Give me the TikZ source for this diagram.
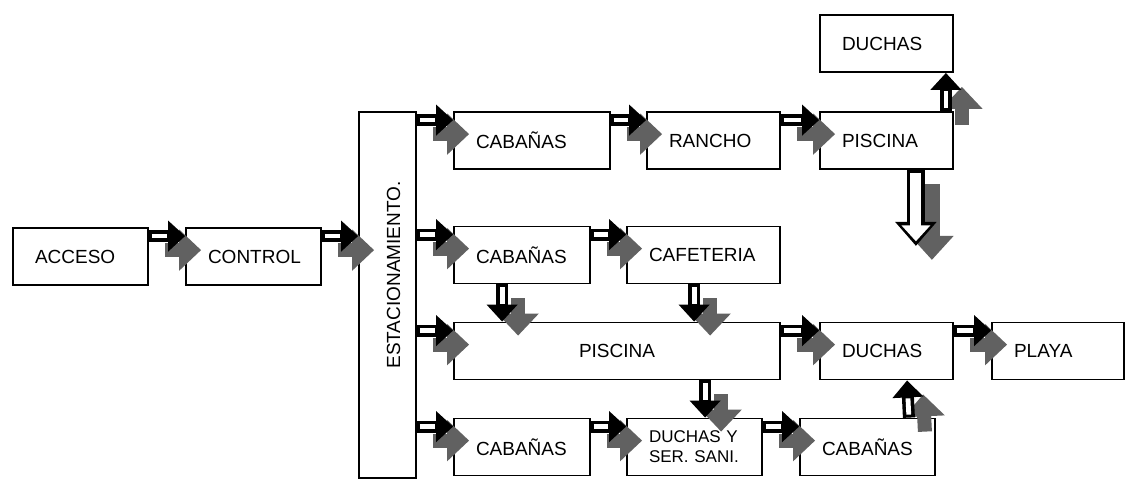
\documentclass[tikz,border=0pt]{standalone}
\usepackage{fontspec}
\setmainfont{Liberation Sans}
\usepackage{graphicx}
\usepackage{tikz}
\usetikzlibrary{calc,arrows.meta,positioning}
\hyphenpenalty=10000

\begin{document}
\begin{tikzpicture}[x=0.5pt,y=0.5pt]

  % Styles
  \tikzstyle{block}=[draw,line width=0.9pt,fill=white,align=left,minimum height=28.5pt,inner xsep=11pt,inner ysep=2pt,font=\fontsize{9.5}{11}\selectfont]
  \tikzstyle{ghost}=[line width=7pt,draw=black!62,-{Triangle[length=11pt,width=20pt]},transform canvas={shift={(8pt,-7pt)}}]
  \tikzstyle{to}=[line width=6pt,-{Triangle[length=8.5pt,width=15pt]}]
  \tikzstyle{slot}=[line width=2.4pt,draw=white,shorten <=1.5pt,shorten >=9pt]

  % \block{<id>}{<text width>}{<label>}
  \newcommand{\block}[3]{node[block,text width=#2] (#1) {#3}}
  % \flow{<from>}{<to>}
  \newcommand{\flow}[2]{\draw[ghost] #1 -- #2; \draw[to] #1 -- #2; \draw[slot] #1 -- #2;}

  % ===========================================================================

  \useasboundingbox (0,0) rectangle (1133,-491);

  % Draw blocks
  \path (80.5,-256.5)     \block{acc}{45.5pt}{ACCESO};
  \path (acc) +(173,0)    \block{ctl}{45.5pt}{CONTROL};
  \path (387.5,-295) node[block,minimum width=28.5pt,minimum height=183pt,inner xsep=0pt] (est)
    {\hspace*{6pt}\rotatebox{90}{\hspace*{20pt}ESTACIONAMIENTO.}};

  \path (532,-140.5)      \block{cab1}{56pt}{CABAÑAS};
  \path (cab1) +(181.5,0) \block{ran}{44.5pt}{RANCHO};
  \path (ran) +(173,0)    \block{pis1}{44.5pt}{PISCINA};
  \path (pis1) +(0,97)    \block{duc1}{44.5pt}{DUCHAS};

  \path (522,-255)        \block{cab2}{46pt}{CABAÑAS};
  \path (cab2) +(181.5,0) \block{caf}{54.5pt}{CAFETERIA};

  \path (617,-351) node[block,text width=141pt,align=center] (pis2) {PISCINA};
  \path (pis2) +(269.5,0) \block{duc2}{44.5pt}{DUCHAS};
  \path (duc2) +(171.5,0) \block{pla}{44pt}{PLAYA};

  \path (522,-447)        \block{cab3}{46pt}{CABAÑAS};
  \path (cab3) +(172.5,0) node[block,text width=45.5pt,font=\fontsize{8.5}{10}\selectfont] (dss) {DUCHAS Y\\SER. SANI.};
  \path (dss) +(173,0)    \block{cab4}{45.5pt}{CABAÑAS};

  % Draw arrows
  \flow{($(acc.north east)+(0,-9)$)}{($(ctl.north west)+(0,-9)$)}
  \flow{($(ctl.north east)+(0,-9)$)}{($(est.west |- ctl.north)+(0,-9)$)}

  \flow{($(est.east |- cab1.north)+(0,-9)$)}{($(cab1.north west)+(0,-9)$)}
  \flow{($(cab1.north east)+(0,-9)$)}{($(ran.north west)+(0,-9)$)}
  \flow{($(ran.north east)+(0,-9)$)}{($(pis1.north west)+(0,-9)$)}
  \flow{($(pis1.north east)+(-8,0)$)}{($(duc1.south east)+(-8,0)$)}

  \flow{($(est.east |- cab2.north)+(0,-9)$)}{($(cab2.north west)+(0,-9)$)}
  \flow{($(cab2.north east)+(0,-9)$)}{($(caf.north west)+(0,-9)$)}
  \flow{($(cab2.south west)+(49,0)$)}{($(pis2.north west)+(49,0)$)}
  \flow{($(caf.south west)+(68,0)$)}{($(pis2.north west)+(241,0)$)}

  \flow{($(est.east |- pis2.north)+(0,-9)$)}{($(pis2.north west)+(0,-9)$)}
  \flow{($(pis2.north east)+(0,-9)$)}{($(duc2.north west)+(0,-9)$)}
  \flow{($(duc2.north east)+(0,-9)$)}{($(pla.north west)+(0,-9)$)}
  \flow{($(pis2.south west)+(252,0)$)}{($(dss.north west)+(79,0)$)}

  \flow{($(est.east |- cab3.north)+(0,-9)$)}{($(cab3.north west)+(0,-9)$)}
  \flow{($(cab3.north east)+(0,-9)$)}{($(dss.north west)+(0,-9)$)}
  \flow{($(dss.north east)+(0,-9)$)}{($(cab4.north west)+(0,-9)$)}
  \flow{($(cab4.north east)+(-27,0)$)}{($(duc2.south west)+(88,0)$)}

  % Open arrow below the upper pool
  \coordinate (drop) at ($(pis1.south east)+(-38,-76)$);
  \draw[ghost,line width=8pt,-{Triangle[length=12pt,width=21pt]}] ($(pis1.south east)+(-38,0)$) -- (drop);
  \draw[line width=9pt,-{Triangle[length=12pt,width=20pt]}] ($(pis1.south east)+(-38,0)$) -- (drop);
  \draw[line width=5.5pt,draw=white,-{Triangle[length=8pt,width=14pt]},shorten <=1.5pt,shorten >=2.3pt] ($(pis1.south east)+(-38,0)$) -- (drop);

\end{tikzpicture}
\end{document}
